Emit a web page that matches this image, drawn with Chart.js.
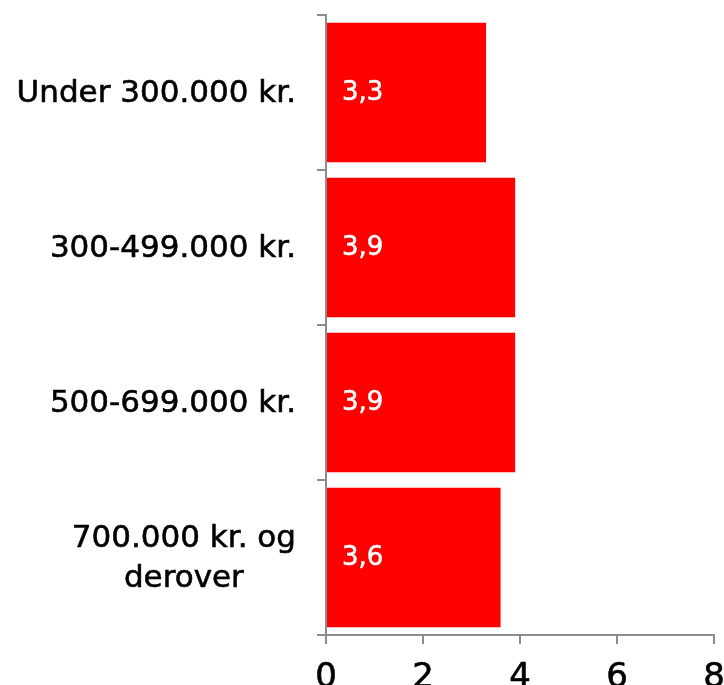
<!DOCTYPE html>
<html>
<head>
<meta charset="utf-8">
<script src="https://cdn.jsdelivr.net/npm/chart.js@4.4.1/dist/chart.umd.min.js"></script>
<style>
  html, body { margin: 0; padding: 0; background: #fff; overflow: hidden; }
  #wrap { position: relative; width: 724px; height: 685px; }
</style>
</head>
<body>
<div id="wrap"><canvas id="incomeChart"></canvas></div>
<script>
const categories = [
    ['Under 300.000 kr.'],
    ['300-499.000 kr.'],
    ['500-699.000 kr.'],
    ['700.000 kr. og', 'derover']
];
const values = [3.3, 3.9, 3.9, 3.6];
const valueLabels = ['3,3', '3,9', '3,9', '3,6'];
const xTicks = [0, 2, 4, 6, 8];

const FONT = '"DejaVu Sans", sans-serif';
const AXIS_GREY = '#8c8c8c';

//..draws y labels: right aligned block, lines centered inside block
const yLabelPlugin = {
    id: 'yLabels',
    afterDraw(chart) {
        const ctx = chart.ctx;
        const y = chart.scales.y;
        const lineH = 40;
        ctx.save();
        ctx.font = '31px ' + FONT;
        ctx.fillStyle = '#000';
        ctx.strokeStyle = '#000';
        ctx.lineWidth = 0.6;
        ctx.textBaseline = 'middle';
        ctx.textAlign = 'center';
        categories.forEach((lines, i) => {
            const cy = y.getPixelForValue(i) + 1;
            const widest = Math.max(...lines.map(l => ctx.measureText(l).width));
            const cx = 296 - widest / 2;
            const top = cy - (lines.length - 1) * lineH / 2;
            lines.forEach((l, j) => {
                ctx.fillText(l, cx, top + j * lineH);
                ctx.strokeText(l, cx, top + j * lineH);
            });
        });
        ctx.restore();
    }
};

//...value labels inside bars
const valuePlugin = {
    id: 'valueLabels',
    afterDatasetsDraw(chart) {
        const ctx = chart.ctx;
        const meta = chart.getDatasetMeta(0);
        ctx.save();
        ctx.font = '26px ' + FONT;
        ctx.fillStyle = '#fff';
        ctx.strokeStyle = '#fff';
        ctx.lineWidth = 0.5;
        ctx.textAlign = 'left';
        ctx.textBaseline = 'middle';
        meta.data.forEach((bar, i) => {
            ctx.fillText(valueLabels[i], bar.base + 15, bar.y + 1);
            ctx.strokeText(valueLabels[i], bar.base + 15, bar.y + 1);
        });
        ctx.restore();
    }
};

new Chart(document.getElementById('incomeChart'), {
    type: 'bar',
    data: {
        labels: categories.map(c => c.join(' ')),
        datasets: [{
            data: values,
            backgroundColor: '#ff0000',
            borderWidth: 0,
            barPercentage: 0.9,
            categoryPercentage: 1.0
        }]
    },
    options: {
        indexAxis: 'y',
        responsive: true,
        maintainAspectRatio: false,
        animation: false,
        layout: { padding: { top: 15, right: 10, left: 0, bottom: 0 } },
        plugins: {
            legend: { display: false },
            tooltip: { enabled: false }
        },
        scales: {
            x: {
                min: 0,
                max: 8,
                afterBuildTicks: scale => { scale.ticks = xTicks.map(v => ({ value: v })); },
                afterFit: scale => {
                    scale.height = 50;
                    scale.paddingLeft = 0;
                    scale.paddingRight = 0;
                },
                grid: {
                    drawOnChartArea: false,
                    drawTicks: true,
                    tickLength: 9,
                    color: AXIS_GREY,
                    lineWidth: 2
                },
                border: { color: AXIS_GREY, width: 2 },
                ticks: {
                    font: { family: FONT, size: 34 },
                    color: '#000',
                    textStrokeColor: '#000',
                    textStrokeWidth: 0.6,
                    padding: 14,
                    maxRotation: 0
                }
            },
            y: {
                offset: true,
                afterFit: scale => { scale.width = 326; },
                grid: {
                    offset: true,
                    drawOnChartArea: false,
                    drawTicks: true,
                    tickLength: 9,
                    color: AXIS_GREY,
                    lineWidth: 2
                },
                border: { color: AXIS_GREY, width: 2 },
                ticks: { display: false }
            }
        }
    },
    plugins: [yLabelPlugin, valuePlugin]
});
</script>
</body>
</html>
